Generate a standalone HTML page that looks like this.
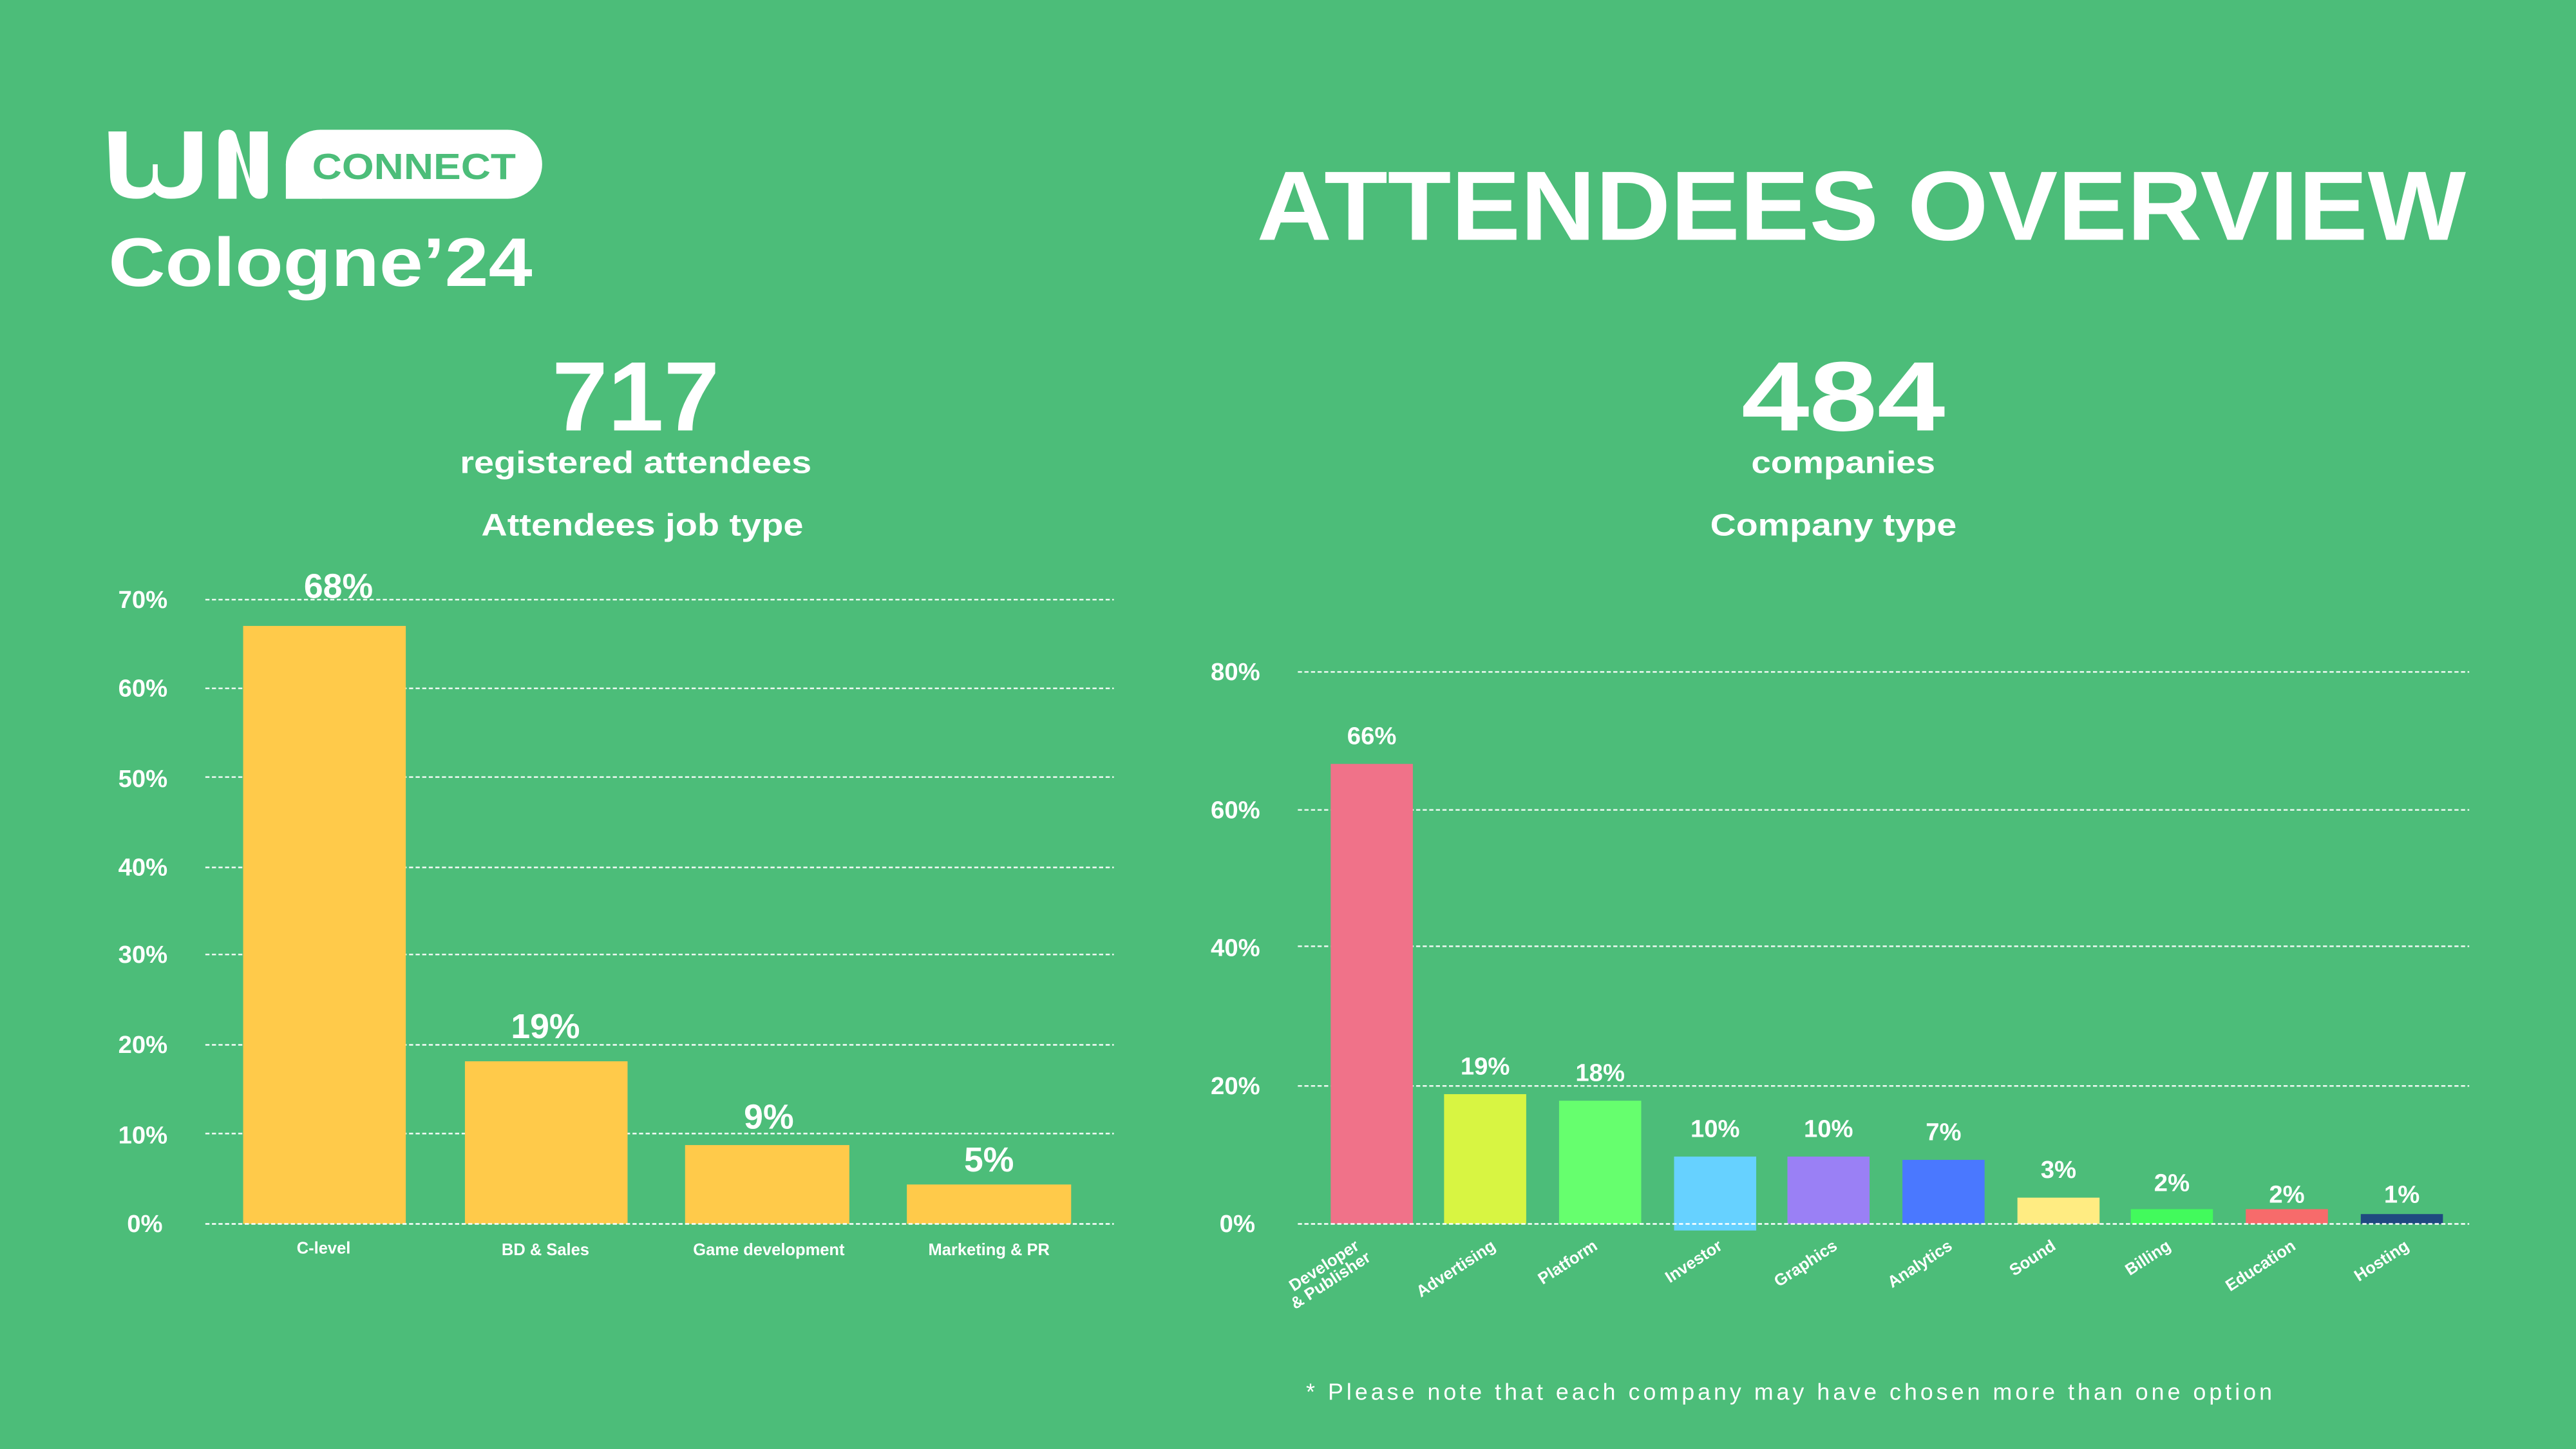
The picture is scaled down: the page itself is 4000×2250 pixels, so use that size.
<!DOCTYPE html>
<html><head><meta charset="utf-8"><style>html,body{margin:0;padding:0;background:#4cbd79}svg{display:block}</style></head>
<body>
<svg width="4000" height="2250" viewBox="0 0 1568 882" xmlns="http://www.w3.org/2000/svg" font-family="Liberation Sans, sans-serif" fill="#fff">
<rect width="1568" height="882" fill="#4cbd79"/>
<!-- logo -->
<g fill="#fff">
<path d="M66 80h11v26q0 8 8 8t8-8v-6h3v6q0 8 8 8t8-8V80h11v26q0 15 -19 15q-7 0 -10 -4q-4 4 -11 4q-16 0 -16 -15z"/>
<path d="M133 121V87q0-8 6-8q4 0 5 4l8 26V80h11v36q0 5-5 5q-4 0-6-4l-8-25v29z"/>
<rect x="174" y="79" width="156" height="42" rx="21"/>
<rect x="174" y="100" width="22" height="21"/>
</g>
<text x="252" y="109" text-anchor="middle" font-size="22" font-weight="bold" fill="#4cbd79" textLength="124" lengthAdjust="spacingAndGlyphs">CONNECT</text>
<text x="66" y="174" font-size="42" font-weight="bold" textLength="258" lengthAdjust="spacingAndGlyphs">Cologne’24</text>
<text x="765" y="146" font-size="60" font-weight="bold" textLength="736" lengthAdjust="spacingAndGlyphs">ATTENDEES OVERVIEW</text>
<!-- headers -->
<text x="387" y="262" text-anchor="middle" font-size="60" font-weight="bold" textLength="102" lengthAdjust="spacingAndGlyphs">717</text>
<text x="387" y="288" text-anchor="middle" font-size="19" font-weight="bold" textLength="214" lengthAdjust="spacingAndGlyphs">registered attendees</text>
<text x="391" y="326" text-anchor="middle" font-size="19" font-weight="bold" textLength="196" lengthAdjust="spacingAndGlyphs">Attendees job type</text>
<text x="1122" y="262" text-anchor="middle" font-size="60" font-weight="bold" textLength="124" lengthAdjust="spacingAndGlyphs">484</text>
<text x="1122" y="288" text-anchor="middle" font-size="19" font-weight="bold" textLength="112" lengthAdjust="spacingAndGlyphs">companies</text>
<text x="1116" y="326" text-anchor="middle" font-size="19" font-weight="bold" textLength="150" lengthAdjust="spacingAndGlyphs">Company type</text>
<!-- left grid -->
<g stroke="#fff" stroke-width="1" stroke-dasharray="2.5,1.5" opacity="0.9">
<line x1="125" x2="678" y1="365" y2="365"/><line x1="125" x2="678" y1="419" y2="419"/>
<line x1="125" x2="678" y1="473" y2="473"/><line x1="125" x2="678" y1="528" y2="528"/>
<line x1="125" x2="678" y1="581" y2="581"/><line x1="125" x2="678" y1="636" y2="636"/>
<line x1="125" x2="678" y1="690" y2="690"/>
</g>
<g font-size="15" font-weight="bold" text-anchor="end">
<text x="102" y="370">70%</text><text x="102" y="424">60%</text><text x="102" y="479">50%</text>
<text x="102" y="533">40%</text><text x="102" y="586">30%</text><text x="102" y="641">20%</text>
<text x="102" y="696">10%</text><text x="99" y="750">0%</text>
</g>
<g fill="#ffca4a">
<rect x="148" y="381" width="99" height="364"/><rect x="283" y="646" width="99" height="99"/>
<rect x="417" y="697" width="100" height="48"/><rect x="552" y="721" width="100" height="24"/>
</g>
<line x1="125" x2="678" y1="745" y2="745" stroke="#fff" stroke-dasharray="2.5,1.5"/>
<g font-size="21" font-weight="bold" text-anchor="middle">
<text x="206" y="364">68%</text><text x="332" y="632">19%</text><text x="468" y="687">9%</text><text x="602" y="713">5%</text>
</g>
<g font-size="10" font-weight="bold" text-anchor="middle">
<text x="197" y="763">C-level</text><text x="332" y="764">BD &amp; Sales</text>
<text x="468" y="764">Game development</text><text x="602" y="764">Marketing &amp; PR</text>
</g>
<!-- right grid -->
<g stroke="#fff" stroke-width="1" stroke-dasharray="2.5,1.5" opacity="0.9">
<line x1="790" x2="1503" y1="409" y2="409"/><line x1="790" x2="1503" y1="493" y2="493"/>
<line x1="790" x2="1503" y1="576" y2="576"/><line x1="790" x2="1503" y1="661" y2="661"/>
</g>
<g font-size="15" font-weight="bold" text-anchor="end">
<text x="767" y="414">80%</text><text x="767" y="498">60%</text><text x="767" y="582">40%</text>
<text x="767" y="666">20%</text><text x="764" y="750">0%</text>
</g>
<rect x="810" y="465" width="50" height="280" fill="#f07289"/>
<rect x="879" y="666" width="50" height="79" fill="#d8f542"/>
<rect x="949" y="670" width="50" height="75" fill="#66ff6e"/>
<rect x="1019" y="704" width="50" height="45" fill="#66d1ff"/>
<rect x="1088" y="704" width="50" height="41" fill="#9a80f5"/>
<rect x="1158" y="706" width="50" height="39" fill="#4a78ff"/>
<rect x="1228" y="729" width="50" height="16" fill="#ffec82"/>
<rect x="1297" y="736" width="50" height="9" fill="#42fa5c"/>
<rect x="1367" y="736" width="50" height="9" fill="#f76b6b"/>
<rect x="1437" y="739" width="50" height="6" fill="#1f4a80"/>
<line x1="790" x2="1503" y1="745" y2="745" stroke="#fff" stroke-dasharray="2.5,1.5"/>
<g font-size="15" font-weight="bold" text-anchor="middle">
<text x="835" y="453">66%</text><text x="904" y="654">19%</text><text x="974" y="658">18%</text>
<text x="1044" y="692">10%</text><text x="1113" y="692">10%</text><text x="1183" y="694">7%</text>
<text x="1253" y="717">3%</text><text x="1322" y="725">2%</text><text x="1392" y="732">2%</text><text x="1462" y="732">1%</text>
</g>
<g font-size="10" font-weight="bold" text-anchor="end">
<text transform="translate(828,760) rotate(-33)">Developer</text>
<text transform="translate(835,767) rotate(-33)">&amp; Publisher</text>
<text transform="translate(911,760) rotate(-33)">Advertising</text>
<text transform="translate(973,760) rotate(-33)">Platform</text>
<text transform="translate(1049,760) rotate(-33)">Investor</text>
<text transform="translate(1119,760) rotate(-33)">Graphics</text>
<text transform="translate(1189,760) rotate(-33)">Analytics</text>
<text transform="translate(1252,760) rotate(-33)">Sound</text>
<text transform="translate(1322,760) rotate(-33)">Billing</text>
<text transform="translate(1398,760) rotate(-33)">Education</text>
<text transform="translate(1467,760) rotate(-33)">Hosting</text>
</g>
<text x="1089" y="852" text-anchor="middle" font-size="14" textLength="588" lengthAdjust="spacing">* Please note that each company may have chosen more than one option</text>
</svg>
</body></html>
